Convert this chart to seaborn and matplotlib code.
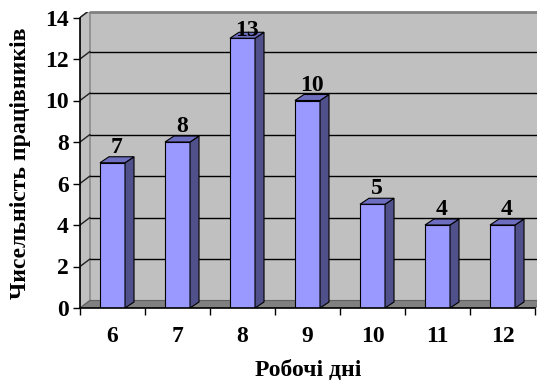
import matplotlib
matplotlib.use("Agg")
import matplotlib.pyplot as plt
from matplotlib.patches import Polygon, Rectangle
import seaborn as sns
import pandas as pd

# Data
days = ["6", "7", "8", "9", "10", "11", "12"]
workers = [7, 8, 13, 10, 5, 4, 4]
y_ticks = [0, 2, 4, 6, 8, 10, 12, 14]

x_title = "Робочі дні"
y_title = "Чисельність працівників"

df = pd.DataFrame({"day": days, "count": workers})

sns.set_theme(style="white")
plt.rcParams["font.family"] = ["Liberation Serif", "DejaVu Serif"]
plt.rcParams["font.weight"] = "bold"
plt.rcParams["text.color"] = "black"
plt.rcParams["axes.labelcolor"] = "black"
plt.rcParams["xtick.color"] = "black"
plt.rcParams["ytick.color"] = "black"

W, H, DPI = 537, 385, 100
fig = plt.figure(figsize=(W / DPI, H / DPI), dpi=DPI)

# plot box in pixels (front axis origin at left/bottom, back wall reaches right/top)
px_left, px_right, px_top, px_bottom = 80, 545, 12, 308
ax = fig.add_axes([px_left / W, (H - px_bottom) / H,
                   (px_right - px_left) / W, (px_bottom - px_top) / H])

px_per_cat = 65.0
px_per_unit = 20.75
xmax = -0.5 + (px_right - px_left) / px_per_cat
ytop = (px_bottom - px_top) / px_per_unit

# depth of the walls and of the bars (in data units)
wdx, wdy = 10 / px_per_cat, 7.5 / px_per_unit
bdx, bdy = 9 / px_per_cat, 6 / px_per_unit

TICK_FS = 17
VALUE_FS = 17
TITLE_FS = 17

ax.set_facecolor("none")
n = len(days)
x0 = -0.5
x1 = n - 0.5

# back wall
ax.add_patch(Rectangle((x0 + wdx, wdy), xmax - (x0 + wdx), ytop - wdy,
                       facecolor="#C0C0C0", edgecolor="none", zorder=0.1))
# left wall
ax.add_patch(Polygon([(x0, 0), (x0, 14), (x0 + wdx, 14 + wdy), (x0 + wdx, wdy)],
                     closed=True, facecolor="#C0C0C0", edgecolor="#808080",
                     linewidth=1.0, zorder=0.15))
# floor
ax.add_patch(Polygon([(x0, 0), (x1, 0), (x1 + wdx, wdy), (x0 + wdx, wdy)],
                     closed=True, facecolor="#808080", edgecolor="#606060",
                     linewidth=0.8, zorder=0.2))
# top edge of the back wall
ax.plot([x0 + wdx, xmax], [ytop, ytop], color="#808080", linewidth=2.0,
        zorder=0.3, clip_on=False)

# gridlines on back wall and left wall
for v in y_ticks[1:]:
    ax.plot([x0 + wdx, xmax], [v + wdy, v + wdy], color="black",
            linewidth=1.0, zorder=0.4)
    ax.plot([x0, x0 + wdx], [v, v + wdy], color="#202020",
            linewidth=1.0, zorder=0.4)

# front faces of the bars
sns.barplot(data=df, x="day", y="count", color="#9999FF", saturation=1,
            width=0.385, edgecolor="black", linewidth=0.8, ax=ax, zorder=2)

for p, v in zip(ax.patches[-n:], workers):
    bx, bw = p.get_x(), p.get_width()
    p.set_zorder(2)
    # side face
    ax.add_patch(Polygon([(bx + bw, 0), (bx + bw, v), (bx + bw + bdx, v + bdy),
                          (bx + bw + bdx, bdy)], closed=True,
                         facecolor="#50508A", edgecolor="black",
                         linewidth=0.8, zorder=2))
    # top face
    ax.add_patch(Polygon([(bx, v), (bx + bw, v), (bx + bw + bdx, v + bdy),
                          (bx + bdx, v + bdy)], closed=True,
                         facecolor="#6E6EC0", edgecolor="black",
                         linewidth=0.8, zorder=2))
    ax.text(bx + bw / 2 + bdx / 2, min(v + 0.48, 13.1), str(v),
            ha="center", va="baseline", fontsize=VALUE_FS, fontweight="bold",
            color="black", zorder=3)

ax.set_xlim(x0, xmax)
ax.set_ylim(0, ytop)

# axes lines
for s in ["top", "right"]:
    ax.spines[s].set_visible(False)
ax.spines["left"].set_bounds(0, 14)
ax.spines["bottom"].set_bounds(x0, x1)
for s in ["left", "bottom"]:
    ax.spines[s].set_color("black")
    ax.spines[s].set_linewidth(1.2)
    ax.spines[s].set_zorder(2.5)

ax.set_yticks(y_ticks)
ax.set_yticklabels([str(t) for t in y_ticks])
ax.tick_params(axis="y", which="major", direction="out", length=5, width=1,
               color="black", labelcolor="black", pad=3, labelsize=TICK_FS,
               left=True)
ax.set_xticks(range(n))
ax.set_xticklabels(days)
ax.set_xticks([i - 0.5 for i in range(n + 1)], minor=True)
ax.tick_params(axis="x", which="major", length=0, pad=13, labelsize=TICK_FS,
               labelcolor="black")
ax.tick_params(axis="x", which="minor", direction="out", length=5, width=1,
               color="black", bottom=True)
for lbl in ax.get_xticklabels() + ax.get_yticklabels():
    lbl.set_fontweight("bold")

ax.set_xlabel(x_title, fontsize=TITLE_FS, fontweight="bold", color="black")
ax.set_ylabel(y_title, fontsize=TITLE_FS, fontweight="bold", color="black")
ax.xaxis.set_label_coords((308 - px_left) / (px_right - px_left),
                          (px_bottom - 360) / (px_bottom - px_top))
ax.yaxis.set_label_coords((31 - px_left) / (px_right - px_left),
                          (px_bottom - 163) / (px_bottom - px_top))

fig.savefig("out.png", dpi=DPI, facecolor="white")
